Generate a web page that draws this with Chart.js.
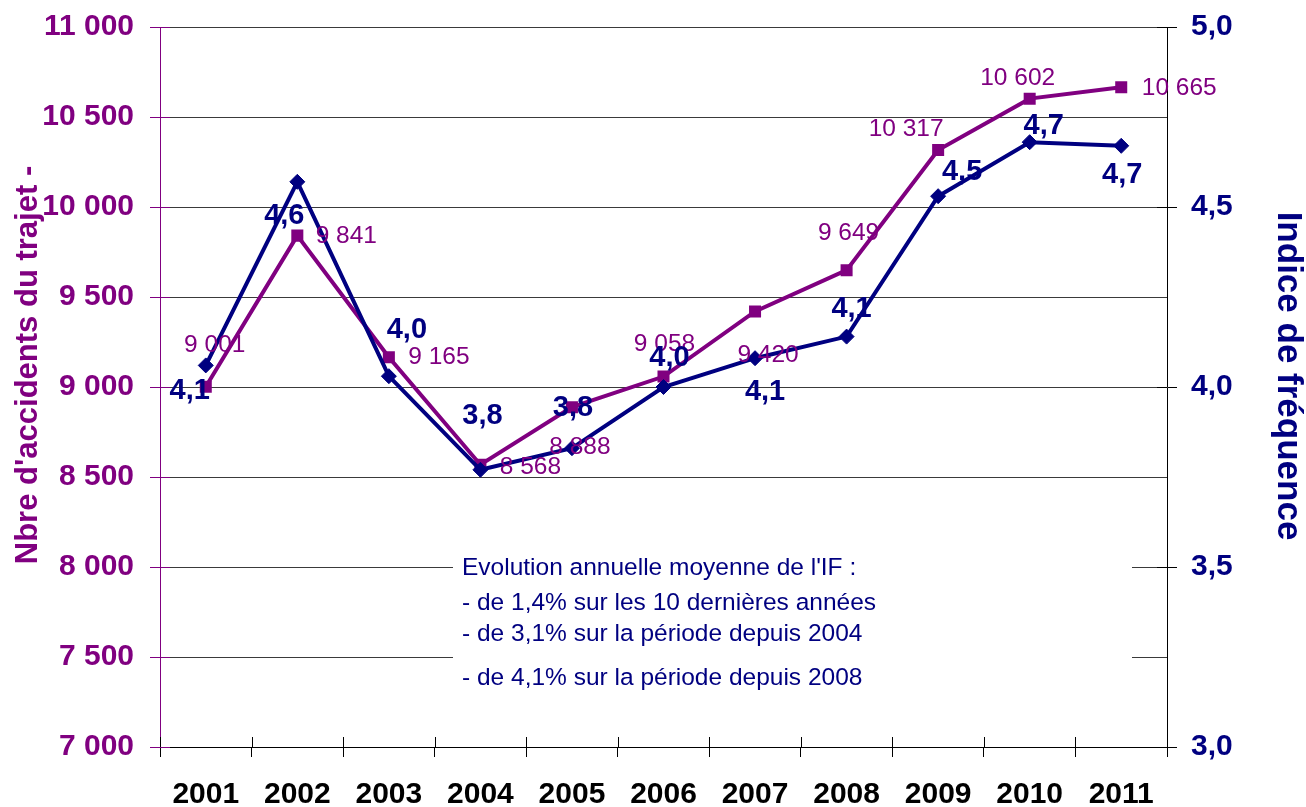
<!DOCTYPE html>
<html>
<head>
<meta charset="utf-8">
<script src="https://cdn.jsdelivr.net/npm/chart.js@4.4.1/dist/chart.umd.min.js"></script>
<style>
  html, body { margin: 0; padding: 0; background: #ffffff; }
  #wrap { width: 1306px; height: 807px; }
</style>
</head>
<body>
<div id="wrap"><canvas id="c" width="1306" height="807"></canvas></div>
<script>
// ---- data ----
const years = ['2001', '2002', '2003', '2004', '2005', '2006', '2007', '2008', '2009', '2010', '2011'];
const accidents = [9001, 9841, 9165, 8568, 8888, 9058, 9420, 9649, 10317, 10602, 10665];
const frequency = [4.06, 4.57, 4.03, 3.77, 3.83, 4.00, 4.08, 4.14, 4.53, 4.68, 4.67];
const accidentLabels = ['9 001', '9 841', '9 165', '8 568', '8 888', '9 058', '9 420', '9 649', '10 317', '10 602', '10 665'];
const frequencyLabels = ['4,1', '4,6', '4,0', '3,8', '3,8', '4,0', '4,1', '4,1', '4,5', '4,7', '4,7'];
const leftTickValues = [7000, 7500, 8000, 8500, 9000, 9500, 10000, 10500, 11000];
const rightTickValues = [3.0, 3.5, 4.0, 4.5, 5.0];
const noteLines = [
  "Evolution annuelle moyenne de l'IF :",
  "- de 1,4% sur les 10 dernières années",
  "- de 3,1% sur la période depuis 2004",
  "- de 4,1% sur la période depuis 2008"
];
const leftTitle = "Nbre d'accidents du trajet -";
const rightTitle = "Indice de fréquence";

// ---- label placement (offsets from each point, px) ----
const accLabelOffsets = [[9,-42],[49,1],[50,0],[50,2],[8,40],[1,-32],[13,44],[2,-37],[-32,-21],[-12,-20],[58,1]];
const freqLabelOffsets = [[-16,26],[-13,34],[18,-46],[2,-54],[1,-40],[6,-29],[10,34],[5,-28],[24,-24],[14,-16],[1,29]];
const noteLineY = [568, 603, 634, 678];

const PURPLE = '#800080';
const NAVY = '#000080';
const FONT = '"Liberation Sans", Arial, sans-serif';

function fmtThousands(v) {
  return String(v).replace(/\B(?=(\d{3})+(?!\d))/g, ' ');
}
function fmtDecimal(v) {
  return Number(v).toFixed(1).replace('.', ',');
}
function noVertPad(s) { s.paddingTop = 0; s.paddingBottom = 0; }

const decorPlugin = {
  id: 'decor',
  beforeDatasetsDraw(chart) {
    const ctx = chart.ctx;
    const ca = chart.chartArea;
    ctx.save();
    ctx.lineWidth = 1;
    const ys = chart.scales.y, y1 = chart.scales.y1;
    ctx.strokeStyle = PURPLE;
    ys.ticks.forEach(t => {
      const p = Math.round(ys.getPixelForValue(t.value)) + 0.5;
      ctx.beginPath(); ctx.moveTo(ca.left, p); ctx.lineTo(ca.left + 10, p); ctx.stroke();
    });
    ctx.strokeStyle = '#000000';
    y1.ticks.forEach(t => {
      const p = Math.round(y1.getPixelForValue(t.value)) + 0.5;
      ctx.beginPath(); ctx.moveTo(ca.right - 10, p); ctx.lineTo(ca.right, p); ctx.stroke();
    });
    const n = years.length;
    const step = (ca.right - ca.left) / n;
    for (let i = 0; i <= n; i++) {
      const px = Math.round(ca.left + i * step) + 0.5;
      ctx.beginPath(); ctx.moveTo(px, ca.bottom - 10); ctx.lineTo(px, ca.bottom); ctx.stroke();
    }
    // note box
    ctx.fillStyle = '#ffffff';
    ctx.fillRect(453, 546, 679, 156);
    ctx.fillStyle = NAVY;
    ctx.font = '24.5px ' + FONT;
    ctx.textAlign = 'left';
    ctx.textBaseline = 'middle';
    noteLines.forEach((s, i) => ctx.fillText(s, 462, noteLineY[i]));
    ctx.restore();
  },
  afterDatasetsDraw(chart) {
    const ctx = chart.ctx;
    ctx.save();
    ctx.textAlign = 'center';
    ctx.textBaseline = 'middle';
    const accMeta = chart.getDatasetMeta(0);
    ctx.fillStyle = PURPLE;
    ctx.font = '24.5px ' + FONT;
    accMeta.data.forEach((pt, i) => {
      ctx.fillText(accidentLabels[i], pt.x + accLabelOffsets[i][0], pt.y + accLabelOffsets[i][1]);
    });
    const fMeta = chart.getDatasetMeta(1);
    ctx.fillStyle = NAVY;
    ctx.font = 'bold 29px ' + FONT;
    fMeta.data.forEach((pt, i) => {
      ctx.fillText(frequencyLabels[i], pt.x + freqLabelOffsets[i][0], pt.y + freqLabelOffsets[i][1]);
    });
    ctx.textBaseline = 'alphabetic';
    ctx.fillStyle = PURPLE;
    ctx.font = 'bold 31px ' + FONT;
    ctx.save();
    ctx.translate(37, 365);
    ctx.rotate(-Math.PI / 2);
    ctx.fillText(leftTitle, 0, 0);
    ctx.restore();
    ctx.fillStyle = NAVY;
    ctx.font = 'bold 35px ' + FONT;
    ctx.save();
    ctx.translate(1278, 376);
    ctx.rotate(Math.PI / 2);
    ctx.fillText(rightTitle, 0, 0);
    ctx.restore();
    ctx.restore();
  }
};

new Chart(document.getElementById('c'), {
  type: 'line',
  data: {
    labels: years,
    datasets: [
      {
        label: 'Accidents',
        data: accidents,
        yAxisID: 'y',
        borderColor: PURPLE,
        backgroundColor: PURPLE,
        borderWidth: 4,
        pointStyle: 'rect',
        pointRadius: 8.5,
        pointBorderWidth: 0,
        tension: 0,
        order: 2
      },
      {
        label: 'IF',
        data: frequency,
        yAxisID: 'y1',
        borderColor: NAVY,
        backgroundColor: NAVY,
        borderWidth: 4,
        pointStyle: 'rectRot',
        pointRadius: 7.5,
        pointBorderWidth: 1,
        tension: 0,
        order: 1
      }
    ]
  },
  options: {
    responsive: false,
    animation: false,
    devicePixelRatio: 1,
    layout: { padding: { top: 27, left: 0, right: 0, bottom: 0 } },
    plugins: { legend: { display: false }, tooltip: { enabled: false } },
    scales: {
      x: {
        offset: true,
        grid: { offset: true, drawOnChartArea: false, drawTicks: true, tickLength: 10, color: '#000000' },
        border: { color: '#000000', width: 1 },
        ticks: { color: '#000000', font: { family: FONT, size: 30, weight: 'bold' }, padding: 20, maxRotation: 0, autoSkip: false },
        afterFit(s) { s.height = 60; s.paddingLeft = 0; s.paddingRight = 0; }
      },
      y: {
        position: 'left',
        min: 7000, max: 11000,
        afterBuildTicks(s) { s.ticks = leftTickValues.map(v => ({ value: v })); },
        grid: { color: '#3a3a3a', lineWidth: 1, tickLength: 10, tickColor: PURPLE },
        border: { color: PURPLE, width: 1 },
        ticks: { color: PURPLE, font: { family: FONT, size: 30, weight: 'bold' }, padding: 16, callback: v => fmtThousands(v) },
        afterFit(s) { s.width = 160; noVertPad(s); }
      },
      y1: {
        position: 'right',
        min: 3, max: 5,
        afterBuildTicks(s) { s.ticks = rightTickValues.map(v => ({ value: v })); },
        grid: { drawOnChartArea: false, tickLength: 10, tickColor: '#000000' },
        border: { color: '#000000', width: 1 },
        ticks: { color: NAVY, font: { family: FONT, size: 30, weight: 'bold' }, padding: 14, callback: v => fmtDecimal(v) },
        afterFit(s) { s.width = 139; noVertPad(s); }
      }
    }
  },
  plugins: [decorPlugin]
});
</script>
</body>
</html>
